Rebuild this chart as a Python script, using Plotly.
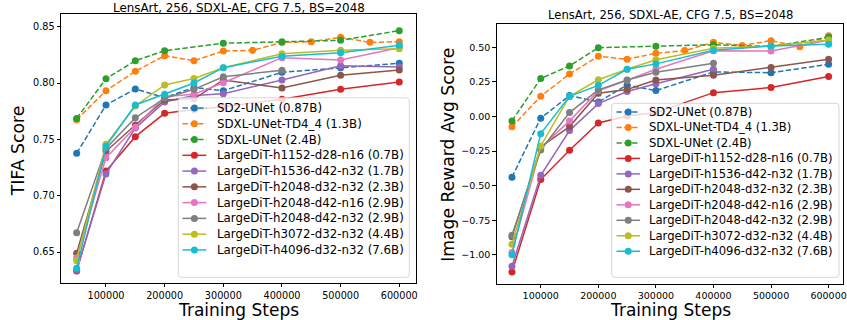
import plotly.graph_objects as go

# ---------------- data ----------------
names = [
    "SD2-UNet (0.87B)",
    "SDXL-UNet-TD4_4 (1.3B)",
    "SDXL-UNet (2.4B)",
    "LargeDiT-h1152-d28-n16 (0.7B)",
    "LargeDiT-h1536-d42-n32 (1.7B)",
    "LargeDiT-h2048-d32-n32 (2.3B)",
    "LargeDiT-h2048-d42-n16 (2.9B)",
    "LargeDiT-h2048-d42-n32 (2.9B)",
    "LargeDiT-h3072-d32-n32 (4.4B)",
    "LargeDiT-h4096-d32-n32 (7.6B)",
]
colors = ["#1f77b4", "#ff7f0e", "#2ca02c", "#d62728", "#9467bd",
          "#8c564b", "#e377c2", "#7f7f7f", "#bcbd22", "#17becf"]
dashed = [True, True, True, False, False, False, False, False, False, False]

steps_sd2 = [50000, 100000, 150000, 200000, 250000, 300000, 400000, 500000, 600000]
steps_td4 = [50000, 100000, 150000, 200000, 250000, 300000, 350000, 400000,
             450000, 500000, 550000, 600000]
steps_sdxl = [50000, 100000, 150000, 200000, 300000, 400000, 500000, 600000]
steps_dit = [50000, 100000, 150000, 200000, 250000, 300000, 400000, 500000, 600000]
steps_dit_short = [50000, 100000, 150000, 200000, 250000, 300000, 400000]

x_tifa = [steps_sd2, steps_td4, steps_sdxl, steps_dit, steps_dit, steps_dit,
          steps_dit, steps_dit_short, steps_dit, steps_dit]
tifa = [
    [0.7376, 0.7805, 0.7947, 0.7870, 0.7960, 0.7932, 0.8095, 0.8136, 0.8175],
    [0.7675, 0.7932, 0.8104, 0.8243, 0.8198, 0.8284, 0.8290, 0.8360, 0.8367, 0.8406, 0.8361, 0.8367],
    [0.7686, 0.8038, 0.8198, 0.8287, 0.8353, 0.8367, 0.8379, 0.8465],
    [0.6332, 0.7219, 0.7524, 0.7731, 0.7765, 0.7790, 0.7856, 0.7944, 0.8009],
    [0.6340, 0.7193, 0.7600, 0.7832, 0.7890, 0.7905, 0.8027, 0.8154, 0.8142],
    [0.6489, 0.7394, 0.7627, 0.7850, 0.7860, 0.8027, 0.7956, 0.8069, 0.8116],
    [0.6450, 0.7337, 0.7607, 0.7880, 0.7900, 0.8003, 0.8225, 0.8204, 0.8314],
    [0.6671, 0.7420, 0.7692, 0.7864, 0.7944, 0.8056, 0.8113],
    [0.6423, 0.7456, 0.7796, 0.7983, 0.8040, 0.8136, 0.8260, 0.8290, 0.8305],
    [0.6355, 0.7438, 0.7805, 0.7900, 0.8000, 0.8136, 0.8237, 0.8269, 0.8335],
]

x_reward = [steps_sd2, steps_td4, steps_sdxl, steps_dit, steps_dit_short, steps_dit,
            steps_dit, steps_dit_short, steps_dit, steps_dit]
reward = [
    [-0.439, -0.012, 0.151, 0.105, 0.228, 0.187, 0.322, 0.316, 0.377],
    [-0.075, 0.146, 0.307, 0.435, 0.413, 0.457, 0.476, 0.536, 0.513, 0.548, 0.504, 0.583],
    [-0.032, 0.274, 0.365, 0.497, 0.508, 0.518, 0.506, 0.572],
    [-1.123, -0.456, -0.244, -0.047, 0.004, 0.028, 0.172, 0.209, 0.288],
    [-1.082, -0.425, -0.102, 0.093, 0.180, 0.236, 0.341],
    [-0.870, -0.220, -0.073, 0.168, 0.195, 0.264, 0.298, 0.353, 0.413],
    [-0.983, -0.225, -0.032, 0.185, 0.262, 0.341, 0.475, 0.473, 0.550],
    [-0.858, -0.242, 0.028, 0.192, 0.264, 0.320, 0.384],
    [-0.923, -0.213, 0.145, 0.265, 0.341, 0.410, 0.493, 0.510, 0.553],
    [-1.000, -0.124, 0.145, 0.225, 0.341, 0.380, 0.478, 0.510, 0.522],
]

x_ticks = [100000, 200000, 300000, 400000, 500000, 600000]
x_ticklabels = ["100000", "200000", "300000", "400000", "500000", "600000"]
tifa_ticks = [0.65, 0.70, 0.75, 0.80, 0.85]
tifa_ticklabels = ["0.65", "0.70", "0.75", "0.80", "0.85"]
reward_ticks = [-1.0, -0.75, -0.5, -0.25, 0.0, 0.25, 0.5]
reward_ticklabels = ["\u22121.00", "\u22120.75", "\u22120.50", "\u22120.25", "0.00", "0.25", "0.50"]

title_text = "LensArt, 256, SDXL-AE, CFG 7.5, BS=2048"
xlabel = "Training Steps"
ylabel_left = "TIFA Score"
ylabel_right = "Image Reward Avg Score"

# ---------------- layout helpers ----------------
W, H = 847, 320
FONT = "DejaVu Sans"
DASH = "5.4px,2.4px"


def px(x):
    return x / W


def py(y):
    return 1 - y / H


fig = go.Figure()

for i in range(len(names)):
    line = dict(color=colors[i], width=1.5, dash=DASH if dashed[i] else "solid")
    marker = dict(size=7, color=colors[i], line=dict(width=0))
    fig.add_trace(go.Scatter(x=x_tifa[i], y=tifa[i], mode="lines+markers", name=names[i],
                             line=line, marker=marker, xaxis="x", yaxis="y",
                             showlegend=False, cliponaxis=False))
    fig.add_trace(go.Scatter(x=x_reward[i], y=reward[i], mode="lines+markers", name=names[i],
                             line=line, marker=marker, xaxis="x2", yaxis="y2",
                             showlegend=False, cliponaxis=False))

axis_common = dict(showline=True, mirror=True, linecolor="black", linewidth=0.8,
                   ticks="outside", ticklen=3.5, tickwidth=0.8, tickcolor="black",
                   showgrid=False, zeroline=False, color="black", automargin=False)

fig.update_layout(
    width=W, height=H,
    margin=dict(l=0, r=0, t=0, b=0),
    paper_bgcolor="white", plot_bgcolor="white",
    font=dict(family=FONT, color="black"),
    showlegend=False,
    xaxis=dict(domain=[px(61), px(416)], range=[23300, 628500], anchor="y",
               tickvals=x_ticks, ticktext=x_ticklabels,
               tickfont=dict(size=9.7, family=FONT, color="black"), **axis_common),
    yaxis=dict(domain=[py(283), py(14.3)], range=[0.6225, 0.861], anchor="x",
               tickvals=tifa_ticks, ticktext=tifa_ticklabels,
               tickfont=dict(size=9.7, family=FONT, color="black"), **axis_common),
    xaxis2=dict(domain=[px(496.7), px(843)], range=[23500, 625000], anchor="y2",
                tickvals=x_ticks, ticktext=x_ticklabels,
                tickfont=dict(size=9.5, family=FONT, color="black"), **axis_common),
    yaxis2=dict(domain=[py(283.5), py(24.3)], range=[-1.207, 0.666], anchor="x2",
                tickvals=reward_ticks, ticktext=reward_ticklabels,
                tickfont=dict(size=9.5, family=FONT, color="black"), **axis_common),
)

annotations = []
shapes = []


def text(x, y, s, size, xanchor="center", angle=0):
    annotations.append(dict(x=px(x), y=py(y), xref="paper", yref="paper", text=s,
                            showarrow=False, xanchor=xanchor, yanchor="middle",
                            borderpad=0, textangle=angle,
                            font=dict(family=FONT, size=size, color="black")))


# titles and axis labels
text(238.5, 8.3, title_text, 11.9)
text(670.8, 14.7, title_text, 11.6)
text(238.5, 309.6, xlabel, 17.0)
text(670.8, 309.6, xlabel, 17.0)
text(18.3, 151, ylabel_left, 17.3, angle=-90)
text(447.3, 154.5, ylabel_right, 17.2, angle=-90)


def rrect(x0, y0, x1, y1, r):
    pts = [("M", x0 + r, y0), ("L", x1 - r, y0), ("Q", x1, y0, x1, y0 + r),
           ("L", x1, y1 - r), ("Q", x1, y1, x1 - r, y1), ("L", x0 + r, y1),
           ("Q", x0, y1, x0, y1 - r), ("L", x0, y0 + r), ("Q", x0, y0, x0 + r, y0)]
    out = []
    for p in pts:
        cmd = p[0]
        coords = p[1:]
        seg = cmd + " " + " ".join(
            f"{px(coords[k]):.6f},{py(coords[k + 1]):.6f}" for k in range(0, len(coords), 2))
        out.append(seg)
    return " ".join(out) + " Z"


def legend(box, row0, dy, lx0, lx1, tx, fs):
    x0, y0, x1, y1 = box
    shapes.append(dict(type="path", xref="paper", yref="paper", path=rrect(x0, y0, x1, y1, 3),
                       fillcolor="rgba(255,255,255,0.8)", line=dict(color="rgba(204,204,204,0.8)", width=1),
                       layer="above"))
    mx = (lx0 + lx1) / 2
    r = 3.5
    for i, name in enumerate(names):
        yc = row0 + i * dy
        shapes.append(dict(type="line", xref="paper", yref="paper",
                           x0=px(lx0), x1=px(lx1), y0=py(yc), y1=py(yc),
                           line=dict(color=colors[i], width=1.5, dash=DASH if dashed[i] else "solid"),
                           layer="above"))
        shapes.append(dict(type="circle", xref="paper", yref="paper",
                           x0=px(mx - r), x1=px(mx + r), y0=py(yc + r), y1=py(yc - r),
                           fillcolor=colors[i], line=dict(width=0), layer="above"))
        text(tx, yc, name, fs, xanchor="left")


legend((178.3, 97.8, 409.3, 277.3), 108.0, 15.77, 182.5, 206.3, 215.5, 11.8)
legend((611.7, 103.3, 839.0, 277.3), 112.0, 15.47, 616.5, 640.0, 648.3, 11.6)

fig.update_layout(annotations=annotations, shapes=shapes)
# the page body gets no default margin, so the figure sits at the window's top-left corner
fig.write_html("out.html", config={"displayModeBar": False},
               post_script="document.body.style.margin='0px';")
